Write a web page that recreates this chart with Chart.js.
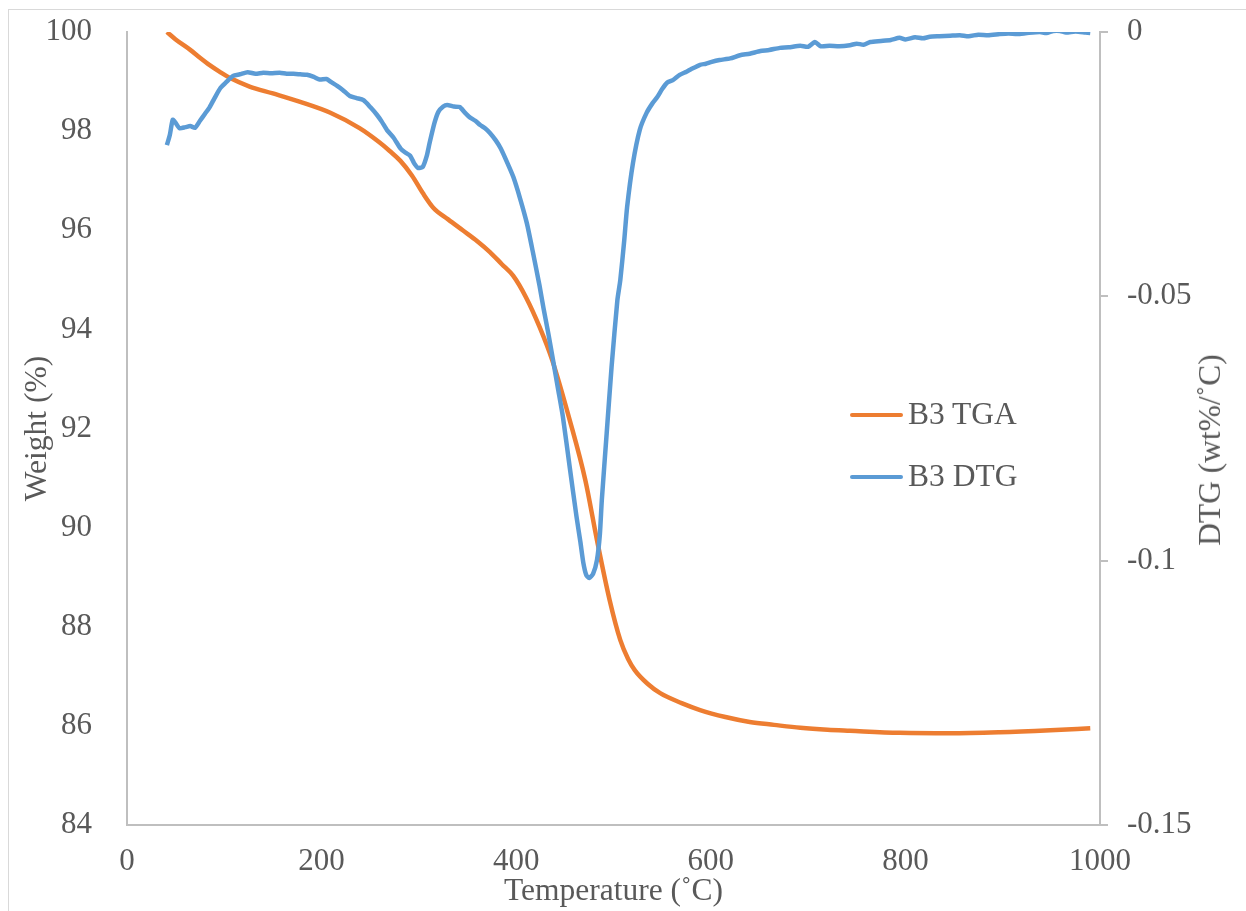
<!DOCTYPE html>
<html>
<head>
<meta charset="utf-8">
<script src="https://cdn.jsdelivr.net/npm/chart.js@4"></script>
<style>
  body { margin: 0; background: #fff; overflow: hidden; }
  #wrap { position: relative; width: 1246px; height: 911px; }
  #frame { position: absolute; left: 8px; top: 9px; width: 1260px; height: 930px; border: 1px solid #d9d9d9; box-sizing: border-box; }
  #myChart { position: absolute; left: 0; top: 0; }
  .txt { position: absolute; font-family: "Liberation Serif", "Times New Roman", serif; font-size: 31.5px; color: #595959; white-space: nowrap; }
  .key { position: absolute; left: 850px; width: 53px; height: 4px; border-radius: 2px; }
</style>
</head>
<body>
<div id="wrap">
  <div id="frame"></div>
  <canvas id="myChart" width="1246" height="911"></canvas>
  <div class="key" style="top:413px;background:#ED7D31"></div>
  <div class="txt" style="left:908px;top:396px">B3 TGA</div>
  <div class="key" style="top:475px;background:#5B9BD5"></div>
  <div class="txt" style="left:908px;top:458px">B3 DTG</div>
  <div class="txt" style="left:1210px;top:450px;transform:translate(-50%,-50%) rotate(-90deg)">DTG (wt%/˚C)</div>
</div>
<script>
// TGA curve
var tgaTemp = [41, 50, 65, 75, 85, 95, 106, 126, 150, 178, 209, 239, 259, 270, 281, 293, 304, 315, 330, 345,
  360, 373, 385, 397, 410, 424, 437, 455, 471, 483, 496, 507, 515, 522, 535, 548, 570, 589, 615, 640,
  665, 692, 720, 743, 794, 846, 897, 949, 990];
var tgaWeight = [100, 99.85, 99.64, 99.48, 99.33, 99.2, 99.07, 98.9, 98.76, 98.59, 98.37, 98.06, 97.78, 97.6, 97.4, 97.1, 96.75, 96.45, 96.22, 96.0,
  95.78, 95.56, 95.32, 95.08, 94.65, 94.05, 93.38, 92.17, 90.96, 89.75, 88.54, 87.73, 87.35, 87.12, 86.85, 86.66, 86.46, 86.32, 86.18, 86.08,
  86.02, 85.96, 85.92, 85.9, 85.86, 85.85, 85.87, 85.91, 85.95];

// DTG curve
var dtgTemp = [41, 44, 47, 50, 54, 60, 65, 70, 75, 80, 85, 90, 96, 102, 109, 116, 124, 132, 140, 148,
  157, 164, 171, 178, 185, 192, 198, 205, 210, 216, 222, 229, 236, 243, 250, 257, 262, 267, 274, 281,
  286, 291, 295, 299, 304, 308, 311, 316, 320, 325, 329, 336, 342, 347, 352, 358, 363, 368, 373, 379,
  384, 391, 397, 404, 411, 417, 424, 428, 433, 438, 443, 448, 455, 462, 466, 469, 472, 475, 479, 483,
  486, 488, 493, 498, 504, 507, 511, 514, 520, 527, 534, 540, 545, 550, 555, 561, 568, 575, 580, 589,
  595, 600, 609, 620, 630, 640, 651, 660, 671, 680, 692, 700, 707, 713, 722, 732, 743, 750, 757, 764,
  775, 785, 794, 800, 810, 818, 825, 835, 846, 856, 865, 875, 885, 897, 906, 915, 925, 938, 945, 952,
  959, 965, 975, 985, 990];
var dtgRate = [-0.0214, -0.0195, -0.0166, -0.0172, -0.0182, -0.0180, -0.0178, -0.0181, -0.0168, -0.0155, -0.0142, -0.0125, -0.0106, -0.0095, -0.0083, -0.0080, -0.0076, -0.0079, -0.0077, -0.0078,
  -0.0077, -0.0079, -0.0079, -0.0080, -0.0081, -0.0085, -0.0090, -0.0089, -0.0095, -0.0102, -0.0110, -0.0121, -0.0125, -0.0129, -0.0142, -0.0157, -0.0170, -0.0185, -0.0200, -0.0220,
  -0.0228, -0.0234, -0.0248, -0.0257, -0.0255, -0.0235, -0.0210, -0.0172, -0.0151, -0.0141, -0.0138, -0.0141, -0.0142, -0.0152, -0.0161, -0.0168, -0.0176, -0.0182, -0.0191, -0.0205,
  -0.0220, -0.0248, -0.0274, -0.0315, -0.0362, -0.0415, -0.0480, -0.0522, -0.0570, -0.0622, -0.0675, -0.0728, -0.0823, -0.0917, -0.0965, -0.1004, -0.1027, -0.1033, -0.1025, -0.0999,
  -0.0950, -0.0885, -0.0759, -0.0634, -0.0507, -0.0469, -0.0395, -0.0331, -0.0248, -0.0185, -0.0153, -0.0135, -0.0123, -0.0108, -0.0096, -0.0091, -0.0081, -0.0075, -0.0070, -0.0062,
  -0.0060, -0.0057, -0.0053, -0.0050, -0.0044, -0.0041, -0.0036, -0.0034, -0.0030, -0.0029, -0.0026, -0.0028, -0.0019, -0.0027, -0.0026, -0.0027, -0.0025, -0.0022, -0.0024, -0.0019,
  -0.0017, -0.0015, -0.0011, -0.0014, -0.0010, -0.0012, -0.0009, -0.0008, -0.0007, -0.0006, -0.0008, -0.0005, -0.0006, -0.0004, -0.0003, -0.0004, -0.0002, 0, -0.0002, 0.0002,
  0.0002, -0.0001, 0.0001, -0.0001, -0.0002];

var tempTicks = [0, 200, 400, 600, 800, 1000];
var weightTicks = [84, 86, 88, 90, 92, 94, 96, 98, 100];
var dtgTicks = [-0.15, -0.1, -0.05, 0];

const canvas = document.getElementById("myChart");
const ctx = canvas.getContext("2d");

const axisGray = "#bfbfbf";
const textGray = "#595959";
const serif = "'Liberation Serif', 'Times New Roman', serif";

function toPoints(xs, ys) {
  return xs.map((x, i) => ({ x: x, y: ys[i] }));
}

function fixTicks(list) {
  return (scale) => {
    scale.ticks = list.map((v) => ({ value: v }));
  };
}

new Chart(ctx, {
  type: "line",
  data: {
    datasets: [
      {
        label: "B3 TGA",
        data: toPoints(tgaTemp, tgaWeight),
        borderColor: "#ED7D31",
        borderWidth: 4.5,
        pointRadius: 0,
        cubicInterpolationMode: "monotone",
        yAxisID: "y",
        order: 1
      },
      {
        label: "B3 DTG",
        data: toPoints(dtgTemp, dtgRate),
        borderColor: "#5B9BD5",
        borderWidth: 4.5,
        pointRadius: 0,
        tension: 0.2,
        yAxisID: "y1",
        order: 0
      }
    ]
  },
  options: {
    responsive: false,
    animation: false,
    events: [],
    layout: { padding: { top: 32, left: 0, right: 0, bottom: 0 } },
    scales: {
      x: {
        type: "linear",
        min: 0,
        max: 1000,
        afterBuildTicks: fixTicks(tempTicks),
        afterFit: (s) => { s.height = 86; s.paddingTop = 0; s.paddingBottom = 0; },
        grid: { display: false },
        border: { display: true, color: axisGray, width: 2 },
        ticks: { color: textGray, font: { family: serif, size: 31 }, padding: 10, maxRotation: 0, autoSkip: false,
          callback: (v) => String(v) },
        title: { display: true, text: "Temperature (˚C)", color: textGray, font: { family: serif, size: 31.5 }, padding: 0 }
      },
      y: {
        position: "left",
        min: 84,
        max: 100,
        afterBuildTicks: fixTicks(weightTicks),
        afterFit: (s) => { s.width = 127; s.paddingTop = 0; s.paddingBottom = 0; },
        grid: { display: false },
        border: { display: true, color: axisGray, width: 2 },
        ticks: { color: textGray, font: { family: serif, size: 31 }, padding: 27, autoSkip: false,
          callback: (v) => String(v) },
        title: { display: true, text: "Weight (%)", color: textGray, font: { family: serif, size: 31.5 }, padding: { top: 19, bottom: 0 } }
      },
      y1: {
        position: "right",
        min: -0.15,
        max: 0,
        afterBuildTicks: fixTicks(dtgTicks),
        afterFit: (s) => { s.width = 146; s.paddingTop = 0; s.paddingBottom = 0; },
        grid: { display: true, drawOnChartArea: false, drawTicks: true, tickLength: 8, color: axisGray, lineWidth: 2 },
        border: { display: true, color: axisGray, width: 2 },
        ticks: { color: textGray, font: { family: serif, size: 31 }, padding: 19, autoSkip: false,
          callback: (v) => String(Math.round(v * 100) / 100) }
      }
    },
    plugins: {
      legend: { display: false },
      tooltip: { enabled: false }
    }
  }
});
</script>
</body>
</html>
